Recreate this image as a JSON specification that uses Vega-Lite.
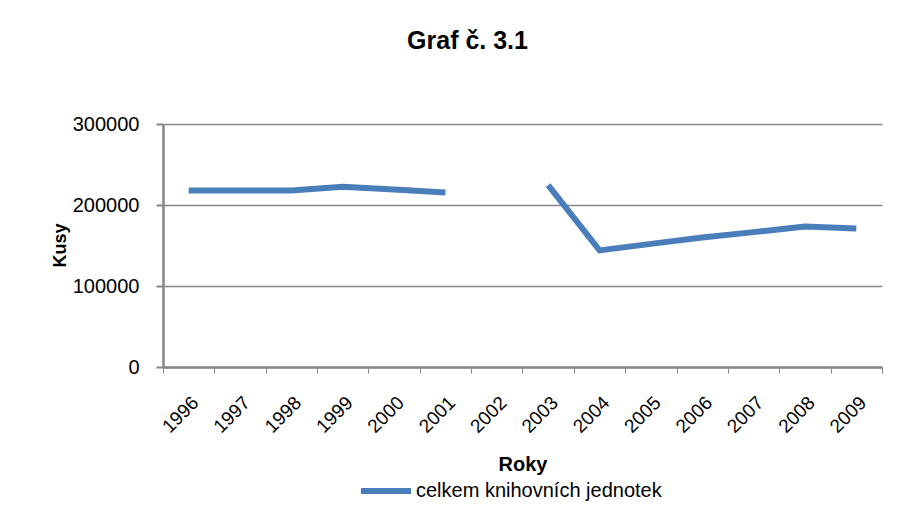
{
  "$schema": "https://vega.github.io/schema/vega-lite/v6.json",
  "width": 719,
  "height": 243,
  "autosize": {"type": "none"},
  "padding": {"left": 163, "top": 124, "right": 26, "bottom": 152},
  "background": "white",
  "title": {
    "text": "Graf č. 3.1",
    "font": "Liberation Sans",
    "fontSize": 25,
    "fontWeight": "bold",
    "color": "#000000",
    "anchor": "middle",
    "frame": "group",
    "baseline": "alphabetic",
    "offset": 40,
    "dx": -55
  },
  "data": {
    "values": [
      {"rok": "1996", "pocet": 218000, "rada": "celkem knihovních jednotek"},
      {"rok": "1997", "pocet": 218000, "rada": "celkem knihovních jednotek"},
      {"rok": "1998", "pocet": 218000, "rada": "celkem knihovních jednotek"},
      {"rok": "1999", "pocet": 222500, "rada": "celkem knihovních jednotek"},
      {"rok": "2000", "pocet": 219000, "rada": "celkem knihovních jednotek"},
      {"rok": "2001", "pocet": 215500, "rada": "celkem knihovních jednotek"},
      {"rok": "2002", "pocet": null, "rada": "celkem knihovních jednotek"},
      {"rok": "2003", "pocet": 224500, "rada": "celkem knihovních jednotek"},
      {"rok": "2004", "pocet": 144000, "rada": "celkem knihovních jednotek"},
      {"rok": "2005", "pocet": 152000, "rada": "celkem knihovních jednotek"},
      {"rok": "2006", "pocet": 160000, "rada": "celkem knihovních jednotek"},
      {"rok": "2007", "pocet": 166500, "rada": "celkem knihovních jednotek"},
      {"rok": "2008", "pocet": 173500, "rada": "celkem knihovních jednotek"},
      {"rok": "2009", "pocet": 171000, "rada": "celkem knihovních jednotek"}
    ]
  },
  "mark": {
    "type": "line",
    "strokeWidth": 6,
    "invalid": "break-paths-show-domains",
    "strokeCap": "butt"
  },
  "encoding": {
    "x": {
      "field": "rok",
      "type": "ordinal",
      "scale": {"type": "band", "paddingInner": 0, "paddingOuter": 0},
      "axis": {
        "title": "Roky",
        "titleFont": "Liberation Sans",
        "titleFontSize": 20,
        "titleFontWeight": "bold",
        "titleColor": "#000000",
        "titleBaseline": "alphabetic",
        "titleY": 103,
        "labelAngle": -45,
        "labelFont": "Liberation Sans",
        "labelFontSize": 19,
        "labelColor": "#000000",
        "labelPadding": 20,
        "tickBand": "extent",
        "ticks": true,
        "tickSize": 6,
        "tickWidth": 1,
        "tickColor": "#868686",
        "domainColor": "#868686",
        "domainWidth": 2.5,
        "grid": false
      }
    },
    "y": {
      "field": "pocet",
      "type": "quantitative",
      "scale": {"domain": [0, 300000], "nice": false},
      "axis": {
        "values": [0, 100000, 200000, 300000],
        "format": "d",
        "title": "Kusy",
        "titleFont": "Liberation Sans",
        "titleFontSize": 18,
        "titleFontWeight": "bold",
        "titleColor": "#000000",
        "titleAngle": -90,
        "titleAlign": "center",
        "titleBaseline": "middle",
        "titleX": -103,
        "titleY": 121,
        "labelFont": "Liberation Sans",
        "labelFontSize": 20,
        "labelColor": "#000000",
        "labelPadding": 17,
        "tickSize": 7,
        "tickWidth": 2,
        "tickColor": "#868686",
        "domainColor": "#868686",
        "domainWidth": 2.5,
        "grid": true,
        "gridColor": "#868686",
        "gridWidth": 1.5
      }
    },
    "color": {
      "field": "rada",
      "type": "nominal",
      "scale": {"range": ["#4A7EBB"]},
      "legend": {
        "title": null,
        "orient": "none",
        "legendX": 195,
        "legendY": 339,
        "symbolType": "stroke",
        "symbolSize": 2500,
        "symbolStrokeWidth": 6,
        "labelFont": "Liberation Sans",
        "labelFontSize": 20,
        "labelColor": "#000000",
        "labelOffset": 2,
        "labelLimit": 400
      }
    }
  },
  "config": {
    "view": {"stroke": null}
  }
}
